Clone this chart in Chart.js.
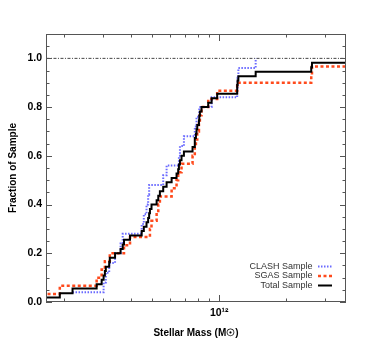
<!DOCTYPE html>
<html>
<head>
<meta charset="utf-8">
<script src="https://cdn.jsdelivr.net/npm/chart.js@4.4.1/dist/chart.umd.min.js"></script>
<style>
  body { margin: 0; background: #fff; }
</style>
</head>
<body>
<canvas id="myChart" width="374" height="345"></canvas>
<script>
// stellar masses, with cumulative fraction at each one
const clashMass = [2.18e11, 3.01e11, 3.08e11, 3.19e11, 3.39e11, 3.59e11, 3.67e11, 4.47e11, 4.57e11, 4.70e11,
  4.78e11, 4.83e11, 5.59e11, 5.79e11, 6.58e11, 6.65e11, 6.93e11, 7.76e11, 7.90e11, 8.13e11,
  9.24e11, 1.205e12, 1.21e12, 1.22e12, 1.46e12];
const clashFrac = [0.04, 0.08, 0.12, 0.16, 0.20, 0.24, 0.28, 0.32, 0.36, 0.40,
  0.44, 0.48, 0.52, 0.56, 0.60, 0.64, 0.68, 0.72, 0.76, 0.80,
  0.84, 0.88, 0.92, 0.96, 1.00];

const sgasMass = [1.5e11, 1.91e11, 2.80e11, 2.95e11, 3.05e11, 3.21e11, 3.72e11, 3.96e11, 4.87e11, 4.95e11,
  5.22e11, 5.31e11, 5.40e11, 6.10e11, 6.42e11, 6.53e11, 6.76e11, 7.58e11, 7.76e11, 7.85e11,
  7.96e11, 8.10e11, 8.18e11, 8.32e11, 8.92e11, 9.79e11, 1.205e12, 2.60e12, 2.62e12, 5e12];
const sgasFrac = [0.033, 0.067, 0.100, 0.133, 0.167, 0.200, 0.233, 0.267, 0.300, 0.333,
  0.367, 0.400, 0.433, 0.467, 0.500, 0.533, 0.567, 0.600, 0.633, 0.667,
  0.700, 0.733, 0.767, 0.800, 0.833, 0.867, 0.900, 0.933, 0.967, 1.000];

const totalMass = [1.5e11, 1.91e11, 2.18e11, 2.80e11, 2.95e11, 3.01e11, 3.05e11, 3.08e11, 3.19e11, 3.21e11,
  3.39e11, 3.59e11, 3.67e11, 3.72e11, 3.96e11, 4.47e11, 4.57e11, 4.70e11, 4.78e11, 4.83e11,
  4.87e11, 4.95e11, 5.22e11, 5.31e11, 5.40e11, 5.59e11, 5.79e11, 6.10e11, 6.42e11, 6.53e11,
  6.58e11, 6.65e11, 6.76e11, 6.93e11, 7.58e11, 7.76e11, 7.76e11, 7.85e11, 7.90e11, 7.96e11,
  8.10e11, 8.13e11, 8.18e11, 8.32e11, 8.92e11, 9.24e11, 9.79e11, 1.205e12, 1.205e12, 1.21e12,
  1.22e12, 1.46e12, 2.60e12, 2.62e12, 5e12];
const totalFrac = [0.018, 0.036, 0.055, 0.073, 0.091, 0.109, 0.127, 0.145, 0.164, 0.182,
  0.200, 0.218, 0.236, 0.255, 0.273, 0.291, 0.309, 0.327, 0.345, 0.364,
  0.382, 0.400, 0.418, 0.436, 0.455, 0.473, 0.491, 0.509, 0.527, 0.545,
  0.564, 0.582, 0.600, 0.618, 0.636, 0.655, 0.673, 0.691, 0.709, 0.727,
  0.745, 0.764, 0.782, 0.800, 0.818, 0.836, 0.855, 0.873, 0.891, 0.909,
  0.927, 0.945, 0.964, 0.982, 1.000];

// reference line at 1.0
const refMass = [1e11, 1e13];
const refFrac = [1.0, 1.0];

// axis ticks
const xTickVals = [2e11, 3e11, 4e11, 5e11, 6e11, 7e11, 8e11, 9e11, 1e12, 2e12, 3e12];
const xLabelVals = [1e12];
const yTickVals = [0, 0.2, 0.4, 0.6, 0.8, 1.0];
const yMinorVals = [0.05, 0.1, 0.15, 0.25, 0.3, 0.35, 0.45, 0.5, 0.55, 0.65, 0.7, 0.75, 0.85, 0.9, 0.95, 1.05];

const legendLabels = ['CLASH Sample', 'SGAS Sample', 'Total Sample'];

const FONT = "'Liberation Sans', Arial, sans-serif";

function toPoints(xs, ys) {
  return xs.map((x, i) => ({x: x, y: ys[i]}));
}

const seriesStyle = [
  {color: '#6a6aff', width: 2, dash: [1.5, 1.5]},
  {color: '#ff4a1c', width: 2.5, dash: [3, 2.5]},
  {color: '#000000', width: 2, dash: []}
];

// inward tick marks, frame and legend
const idlPlugin = {
  id: 'idlFrame',
  afterDatasetsDraw(chart) {
    const {ctx, chartArea: a, scales} = chart;
    const xs = scales.x, ys = scales.y;
    ctx.save();
    ctx.strokeStyle = '#555';
    ctx.lineWidth = 1;
    ctx.strokeRect(a.left + 0.5, a.top + 0.5, a.right - a.left - 1, a.bottom - a.top - 1);

    ctx.beginPath();
    xTickVals.forEach(v => {
      const px = Math.round(xs.getPixelForValue(v)) + 0.5;
      const len = xLabelVals.includes(v) ? 7 : 3.5;
      ctx.moveTo(px, a.bottom); ctx.lineTo(px, a.bottom - len);
      ctx.moveTo(px, a.top); ctx.lineTo(px, a.top + len);
    });
    yTickVals.forEach(v => {
      const py = Math.round(ys.getPixelForValue(v)) + 0.5;
      ctx.moveTo(a.left, py); ctx.lineTo(a.left + 6, py);
      ctx.moveTo(a.right, py); ctx.lineTo(a.right - 6, py);
    });
    yMinorVals.forEach(v => {
      const py = Math.round(ys.getPixelForValue(v)) + 0.5;
      ctx.moveTo(a.left, py); ctx.lineTo(a.left + 3.5, py);
      ctx.moveTo(a.right, py); ctx.lineTo(a.right - 3.5, py);
    });
    ctx.stroke();

    // legend, text right aligned with sample line on the right
    ctx.font = '9px ' + FONT;
    ctx.textAlign = 'right';
    ctx.textBaseline = 'middle';
    const rows = [266.5, 276, 285.5];
    legendLabels.forEach((txt, i) => {
      ctx.fillStyle = '#333';
      ctx.fillText(txt, 312.5, rows[i]);
      const st = seriesStyle[i];
      ctx.beginPath();
      ctx.strokeStyle = st.color;
      ctx.lineWidth = st.width;
      ctx.setLineDash(st.dash);
      ctx.moveTo(318, rows[i]);
      ctx.lineTo(332, rows[i]);
      ctx.stroke();
    });
    ctx.restore();
  }
};

const ctx = document.getElementById('myChart').getContext('2d');
const myChart = new Chart(ctx, {
  type: 'line',
  data: {
    datasets: [
      {
        label: legendLabels[0],
        data: toPoints(clashMass, clashFrac),
        borderColor: seriesStyle[0].color,
        borderWidth: seriesStyle[0].width,
        borderDash: seriesStyle[0].dash,
        stepped: 'before',
        pointRadius: 0,
        order: 3
      },
      {
        label: legendLabels[1],
        data: toPoints(sgasMass, sgasFrac),
        borderColor: seriesStyle[1].color,
        borderWidth: seriesStyle[1].width,
        borderDash: seriesStyle[1].dash,
        stepped: 'before',
        pointRadius: 0,
        order: 2
      },
      {
        label: legendLabels[2],
        data: toPoints(totalMass, totalFrac),
        borderColor: seriesStyle[2].color,
        borderWidth: seriesStyle[2].width,
        stepped: 'before',
        pointRadius: 0,
        order: 1
      },
      {
        label: 'ref',
        data: toPoints(refMass, refFrac),
        borderColor: '#444',
        borderWidth: 1,
        borderDash: [3, 1.5, 1, 1.5],
        pointRadius: 0,
        order: 4
      }
    ]
  },
  options: {
    responsive: false,
    animation: false,
    layout: {padding: {left: 0, top: 34, right: 28, bottom: 0}},
    plugins: {
      legend: {display: false},
      tooltip: {enabled: false}
    },
    scales: {
      x: {
        type: 'logarithmic',
        min: 1.655e11,
        max: 3.73e12,
        afterBuildTicks: s => { s.ticks = xTickVals.map(v => ({value: v})); },
        afterFit: s => { s.height = 43; },
        grid: {display: false, drawTicks: false},
        border: {display: false},
        ticks: {
          autoSkip: false,
          maxRotation: 0,
          padding: 5,
          color: '#000',
          font: {family: FONT, size: 10.5, weight: 'bold'},
          callback: v => (xLabelVals.includes(v) ? '10¹²' : '')
        },
        title: {
          display: true,
          text: 'Stellar Mass (M☉)',
          color: '#000',
          font: {family: FONT, size: 10, weight: 'bold'},
          padding: {top: 0, bottom: 6}
        }
      },
      y: {
        min: 0,
        max: 1.1,
        afterBuildTicks: s => { s.ticks = yTickVals.map(v => ({value: v})); },
        afterFit: s => { s.width = 46; },
        grid: {display: false, drawTicks: false},
        border: {display: false},
        ticks: {
          padding: 4,
          color: '#000',
          font: {family: FONT, size: 10.5, weight: 'bold'},
          callback: v => Number(v).toFixed(1)
        },
        title: {
          display: true,
          text: 'Fraction of Sample',
          color: '#000',
          font: {family: FONT, size: 10, weight: 'bold'},
          padding: {top: 7, bottom: 0}
        }
      }
    }
  },
  plugins: [idlPlugin]
});
</script>
</body>
</html>
